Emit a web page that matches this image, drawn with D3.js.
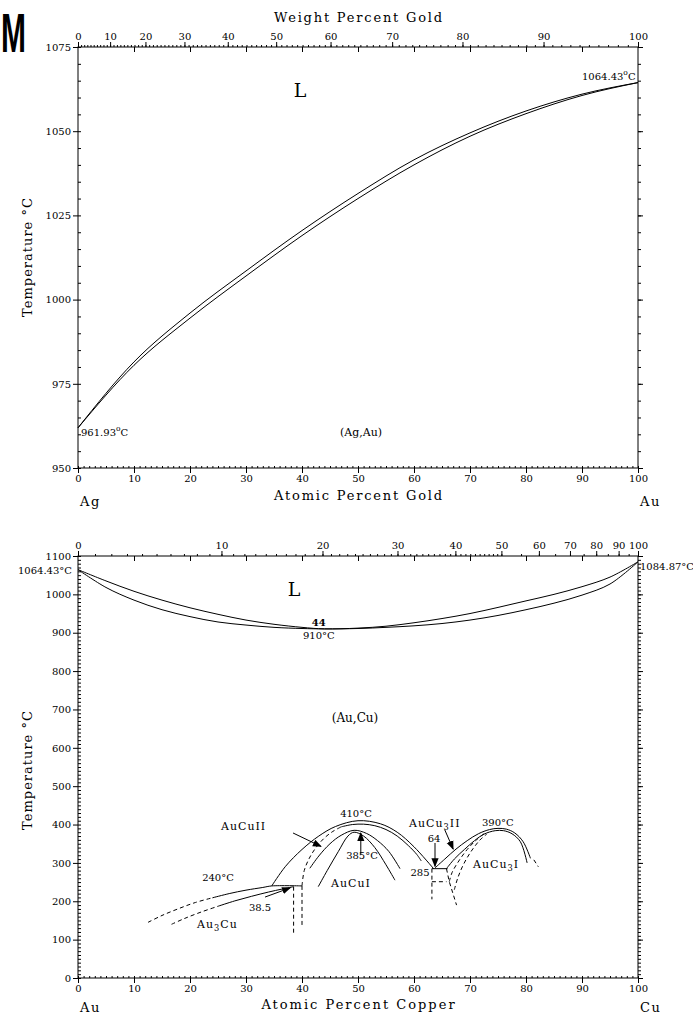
<!DOCTYPE html>
<html>
<head>
<meta charset="utf-8">
<script src="https://cdn.jsdelivr.net/npm/d3@7"></script>
<style>
body { margin: 0; background: #fff; }
text { font-family: "DejaVu Serif", serif; fill: #000; }
.curve { fill: none; stroke: #000; stroke-width: 1; }
.dash { fill: none; stroke: #000; stroke-width: 1; stroke-dasharray: 4 3; }
</style>
</head>
<body>
<svg id="chart" width="693" height="1016"></svg>
<script>
// ---- data: Ag-Au ----
const agAuAt = [0, 10, 20, 30, 40, 50, 60, 70, 80, 90, 100]
const agAuLiquidus = [961.93, 981.5, 996, 1008.5, 1020.5, 1031.5, 1041.5, 1049.5, 1056, 1061, 1064.43]
const agAuSolidus = [961.93, 980.5, 994.5, 1007, 1019, 1030, 1040, 1048.5, 1055.2, 1060.6, 1064.43]
const agAuTempTicks = [950, 975, 1000, 1025, 1050, 1075]
const goldWtTicks = [0, 10, 20, 30, 40, 50, 60, 70, 80, 90, 100]

// ---- data: Au-Cu ----
const auCuAt = [0, 5, 10, 15, 20, 25, 30, 35, 40, 44, 50, 55, 60, 65, 70, 75, 80, 85, 90, 95, 100]
const auCuLiquidus = [1064.43, 1035, 1008, 985, 965, 948, 933, 922, 914, 910, 912, 917, 926, 937, 950, 966, 983, 1000, 1020, 1045, 1084.87]
const auCuSolidus = [1064.43, 1018, 985, 960, 942, 928, 920, 914, 911, 910, 911, 914, 918, 924, 933, 945, 960, 977, 998, 1027, 1084.87]
const auCuTempTicks = [0, 100, 200, 300, 400, 500, 600, 700, 800, 900, 1000, 1100]
const copperWtTicks = [0, 10, 20, 30, 40, 50, 60, 70, 80, 90, 100]

// ordering region, [at% Cu, T]
const au3CuUpperDash = [[12.5, 145], [15, 163], [18, 181], [21, 197], [24, 209]]
const au3CuUpper = [[24, 209], [27, 220], [30, 229], [33, 236], [34.6, 240], [40, 240]]
const au3CuLowerDash = [[16.7, 140], [19, 155], [22, 172], [25, 187]]
const au3CuLower = [[25, 187], [28, 201], [31, 213], [34, 224], [36.5, 232], [38.5, 238]]
const au3CuVerticals = [[[38.5, 238], [38.5, 115]], [[40, 240], [40, 135]]]

const auCuIIOuter = [[34.6, 240], [37, 290], [40, 335], [43, 370], [46, 395], [50, 410], [54, 402], [57, 380], [60, 342], [63.5, 285]]
const auCuIIInnerDash = [[40, 240], [40.4, 280], [41.3, 312], [42.5, 340], [44, 365], [45.5, 382], [47, 394]]
const auCuIIInner = [[47, 394], [49, 400], [51, 401], [53, 397], [55, 387], [57, 370], [59, 345], [60.5, 322], [61.3, 305]]
const auCuIOuter = [[41.4, 286], [43, 318], [45, 350], [47, 372], [49.3, 385], [51.5, 377], [53.5, 358], [55.5, 330], [57.5, 285]]
const auCuIInner = [[42.9, 238], [44.5, 280], [46.5, 330], [48.2, 370], [49.3, 380], [51, 370], [53, 340], [55, 295], [56.6, 255]]

const auCu3Outer = [[63.75, 287], [65.5, 310], [67.5, 336], [69.5, 358], [71.5, 376], [73.5, 387], [75, 390], [76.5, 388], [78, 378], [79.5, 355], [80.8, 312]]
const auCu3Inner = [[65.8, 285], [67.2, 310], [69, 335], [70.8, 358], [72.5, 375], [74.5, 384], [76, 384], [77.5, 376], [79, 355], [80.2, 300]]
const auCu3DashA = [[66.3, 251], [66.8, 275], [68, 305], [69.5, 335], [71, 358], [72.5, 376]]
const auCu3DashB = [[67.2, 230], [67.8, 260], [68.8, 295], [70.2, 330], [71.8, 360], [73, 375]]
const auCu3Tail = [[81.4, 308], [82.2, 290]]
const auCu3Plateau = [[63.2, 285], [66, 285]]
const auCu3Box = [[[63.2, 285], [63.2, 205]], [[63.2, 251], [65.8, 251]], [[65.8, 285], [66.3, 251], [67.6, 190]]]

// arrows [from, to]
const auCuArrows = [
    [[38.4, 378], [43.4, 343]],
    [[50.5, 322], [50.5, 378]],
    [[33.4, 211], [37.9, 235]],
    [[63.75, 352], [63.75, 291]],
    [[65.5, 386], [67, 336]],
]

// ---- helpers ----
const atAu= w => (w/196.97)/((w/196.97)+((100-w)/107.87))*100
const atCu= w => (w/63.546)/((w/63.546)+((100-w)/196.97))*100

const svg= d3.select("#chart")

svg.append("defs").append("marker")
    .attr("id", "head")
    .attr("viewBox", "0 0 10 10")
    .attr("refX", 9).attr("refY", 5)
    .attr("markerWidth", 9).attr("markerHeight", 9)
    .attr("markerUnits", "userSpaceOnUse")
    .attr("orient", "auto")
    .append("path").attr("d", "M0,1L10,5L0,9Z").attr("fill", "#000")

// panel letter (narrowed so it fits the page edge)
svg.append("text")
    .attr("transform", "translate(1,52) scale(0.6,1.1)")
    .style("font-family", "'Liberation Sans', Arial, sans-serif")
    .style("font-weight", "bold").style("font-size", "50px")
    .text("M")

function frame(x, y, {yTicks, yMinor, wtTicks, wtMinor, wtToAt}) {
    let [x0, x1]= x.range()
    let [y0, y1]= y.range()
    let g= svg.append("g").style("font-size", "10px")

    g.append("rect")
        .attr("x", x0).attr("y", y1).attr("width", x1-x0).attr("height", y0-y1)
        .attr("fill", "none").attr("stroke", "#000")

    // left axis: labels + outward major, inward minor
    g.append("g").attr("transform", `translate(${x0},0)`)
        .call(d3.axisLeft(y).tickValues(yTicks).tickSize(5).tickPadding(2).tickFormat(d3.format("d")))
    g.append("g").attr("transform", `translate(${x0},0)`)
        .call(d3.axisRight(y).tickValues(yMinor).tickSize(3).tickFormat(""))
    // right axis
    g.append("g").attr("transform", `translate(${x1},0)`)
        .call(d3.axisRight(y).tickValues(yTicks).tickSize(5).tickFormat(""))
    g.append("g").attr("transform", `translate(${x1},0)`)
        .call(d3.axisRight(y).tickValues(yMinor).tickSize(3).tickFormat(""))

    // bottom axis: atomic percent
    g.append("g").attr("transform", `translate(0,${y0})`)
        .call(d3.axisBottom(x).tickValues(d3.range(0, 101, 10)).tickSize(5).tickPadding(2))
    g.append("g").attr("transform", `translate(0,${y0})`)
        .call(d3.axisTop(x).tickValues(d3.range(0, 101, 1)).tickSize(2).tickFormat(""))

    // top axis: weight percent outward, atomic percent inward
    g.append("g").attr("transform", `translate(0,${y1})`)
        .call(d3.axisTop(x).tickValues(wtTicks.map(wtToAt)).tickSize(5).tickPadding(2)
            .tickFormat((d, i) => wtTicks[i]))
    g.append("g").attr("transform", `translate(0,${y1})`)
        .call(d3.axisTop(x).tickValues(wtMinor.map(wtToAt)).tickSize(2).tickFormat(""))
    g.append("g").attr("transform", `translate(0,${y1})`)
        .call(d3.axisBottom(x).tickValues(d3.range(10, 100, 10)).tickSize(5).tickFormat(""))

    g.selectAll(".domain").remove()
    g.selectAll("text").style("font-family", "'DejaVu Serif', serif")
    return g
}

function label(x, y, str, {anchor="start", size=11, spacing=0, rotate=0}={}) {
    return svg.append("text")
        .attr("transform", `translate(${x},${y}) rotate(${rotate})`)
        .attr("text-anchor", anchor)
        .style("font-size", size+"px")
        .style("letter-spacing", spacing+"px")
        .text(str)
}

// sub / superscript text pieces: [str, baseline shift]
function richLabel(x, y, parts, size=11, spacing=1) {
    let t= svg.append("text").attr("x", x).attr("y", y)
        .style("font-size", size+"px").style("letter-spacing", spacing+"px")
    let acc= 0
    parts.forEach(([s, shift]) => {
        let ts= t.append("tspan").text(s).attr("dy", shift - acc)
        if(shift) ts.style("font-size", (size*0.75)+"px")
        acc= shift
    })
    return t
}

// ======== Ag-Au ========
const xA= d3.scaleLinear([0, 100], [78, 638])
const yA= d3.scaleLinear([950, 1075], [468, 47])
frame(xA, yA, {
    yTicks: agAuTempTicks, yMinor: d3.range(950, 1076, 5),
    wtTicks: goldWtTicks, wtMinor: d3.range(0, 101, 1), wtToAt: atAu,
})

const lineA= d3.line().x(d => xA(d[0])).y(d => yA(d[1])).curve(d3.curveMonotoneX)
svg.append("path").attr("class", "curve").attr("d", lineA(d3.zip(agAuAt, agAuLiquidus)))
svg.append("path").attr("class", "curve").attr("d", lineA(d3.zip(agAuAt, agAuSolidus)))

label(359, 22, "Weight Percent Gold", {anchor: "middle", size: 13, spacing: 1.8})
label(359, 500, "Atomic Percent Gold", {anchor: "middle", size: 13, spacing: 1.8})
label(80, 506, "Ag", {size: 13, spacing: 1.5})
label(640, 506, "Au", {size: 13, spacing: 1.5})
label(32, 257, "Temperature °C", {anchor: "middle", size: 13, spacing: 1, rotate: -90})
label(300, 97, "L", {anchor: "middle", size: 19})
label(361, 436, "(Ag,Au)", {anchor: "middle", size: 11})
richLabel(582, 80, [["1064.43", 0], ["o", -5], ["C", 0]], 10, 0)
richLabel(81, 436, [["961.93", 0], ["o", -5], ["C", 0]], 10, 0)

// ======== Au-Cu ========
const xB= d3.scaleLinear([0, 100], [78, 638])
const yB= d3.scaleLinear([0, 1100], [978, 556])
frame(xB, yB, {
    yTicks: auCuTempTicks, yMinor: d3.range(0, 1101, 10),
    wtTicks: copperWtTicks, wtMinor: [...d3.range(0, 50, 1), ...d3.range(50, 101, 5)], wtToAt: atCu,
})

const smoothB= d3.line().x(d => xB(d[0])).y(d => yB(d[1])).curve(d3.curveCatmullRom.alpha(0.5))
const straight= d3.line().x(d => xB(d[0])).y(d => yB(d[1]))
svg.append("path").attr("class", "curve").attr("d", smoothB(d3.zip(auCuAt, auCuLiquidus)))
svg.append("path").attr("class", "curve").attr("d", smoothB(d3.zip(auCuAt, auCuSolidus)))

const solid= [au3CuUpper, au3CuLower, auCuIIOuter, auCuIIInner, auCuIOuter, auCuIInner, auCu3Outer, auCu3Inner]
const dashed= [au3CuUpperDash, au3CuLowerDash, auCuIIInnerDash, auCu3DashA, auCu3DashB, auCu3Tail]
svg.append("g").selectAll("path").data(solid).join("path")
    .attr("class", "curve").attr("d", smoothB)
svg.append("g").selectAll("path").data(dashed).join("path")
    .attr("class", "dash").attr("d", smoothB)
svg.append("path").attr("class", "curve").attr("d", straight(auCu3Plateau))
svg.append("g").selectAll("path").data([...au3CuVerticals, ...auCu3Box]).join("path")
    .attr("class", "dash").attr("d", straight)
svg.append("g").selectAll("path").data(auCuArrows).join("path")
    .attr("class", "curve").attr("d", straight).attr("marker-end", "url(#head)")

label(359, 1009, "Atomic Percent Copper", {anchor: "middle", size: 13, spacing: 2})
label(80, 1012, "Au", {size: 13, spacing: 1.5})
label(640, 1012, "Cu", {size: 13, spacing: 1.5})
label(32, 770, "Temperature °C", {anchor: "middle", size: 13, spacing: 1, rotate: -90})
label(294, 596, "L", {anchor: "middle", size: 19})
label(72, 574, "1064.43°C", {anchor: "end", size: 10})
label(640, 570, "1084.87°C", {size: 10})
label(xB(43), yB(910)-3, "44", {anchor: "middle", size: 10}).style("font-weight", "bold")
label(xB(43), yB(910)+10, "910°C", {anchor: "middle", size: 10})
label(355, 722, "(Au,Cu)", {anchor: "middle", size: 12})
label(221, 830, "AuCuII", {size: 11, spacing: 1})
label(356, 817, "410°C", {anchor: "middle", size: 10})
label(362, 859, "385°C", {anchor: "middle", size: 10})
label(331, 887, "AuCuI", {size: 11, spacing: 1})
label(218, 881, "240°C", {anchor: "middle", size: 10})
label(260, 911, "38.5", {anchor: "middle", size: 10})
richLabel(197, 928, [["Au", 0], ["3", 3], ["Cu", 0]], 11, 1)
richLabel(409, 827, [["AuCu", 0], ["3", 3], ["II", 0]], 11, 1)
label(434, 842, "64", {anchor: "middle", size: 10})
label(420, 876, "285", {anchor: "middle", size: 10})
label(482, 826, "390°C", {anchor: "start", size: 10})
richLabel(473, 868, [["AuCu", 0], ["3", 3], ["I", 0]], 11, 1)
</script>
</body>
</html>
